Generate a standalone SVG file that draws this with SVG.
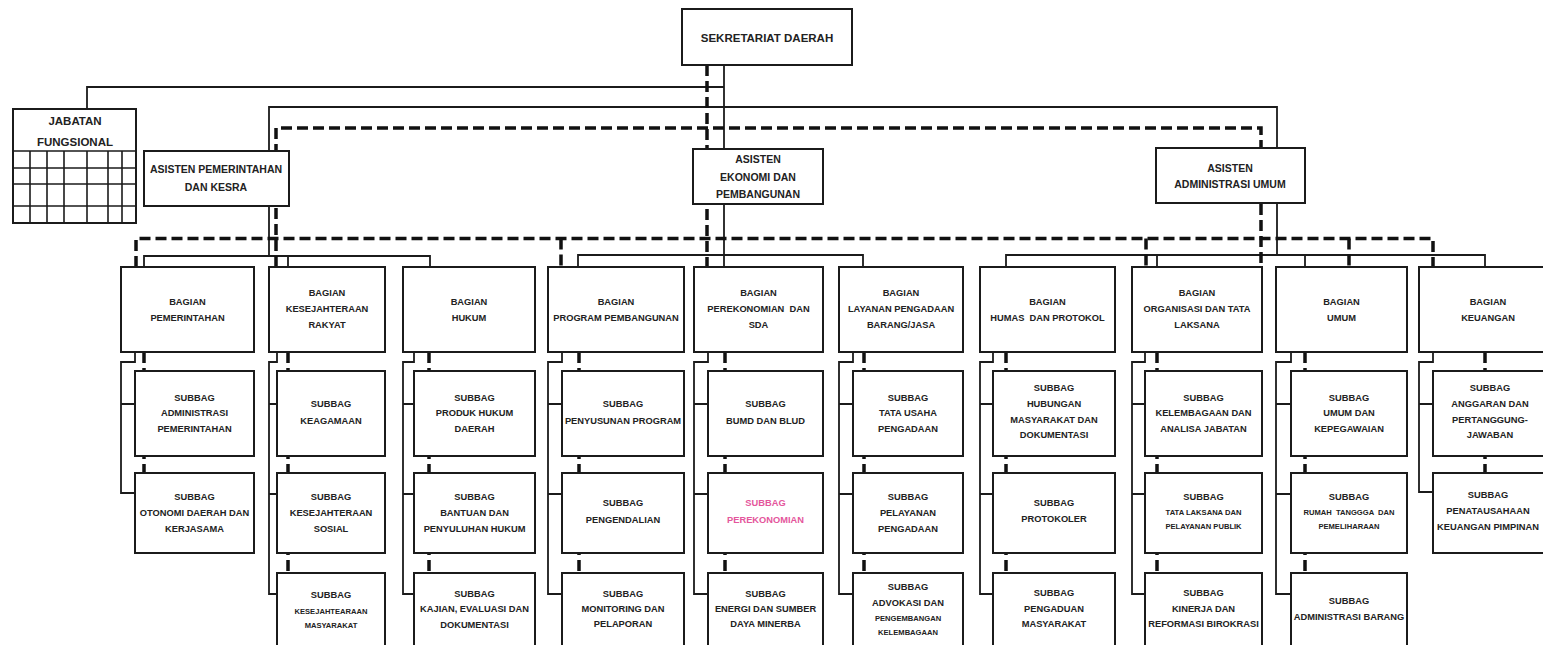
<svg xmlns="http://www.w3.org/2000/svg" width="1543" height="645" viewBox="0 0 1543 645">
<style>
.box{fill:#fff;stroke:#1b1b1b;stroke-width:2}
.ln{fill:none;stroke:#1b1b1b;stroke-width:1.8}
.dl{fill:none;stroke:#111;stroke-width:3.5;stroke-dasharray:11 5}
.grid{fill:none;stroke:#1b1b1b;stroke-width:1.6}
text{font-family:"Liberation Sans",Arial,sans-serif;font-weight:bold;fill:#222;text-anchor:middle;dominant-baseline:central;font-size:9.3px}
.s{font-size:7.6px}
.big{font-size:11.5px}
.mid{font-size:10.5px}
.pink{fill:#e4569c}
</style>
<rect x="0" y="0" width="1543" height="645" fill="#fff"/>
<g id="connectors">
  <path class="ln" d="M87,109 V87 H724"/>
  <path class="ln" d="M724,65 V267"/>
  <path class="ln" d="M269,256 V107 H1277 V255"/>
  <path class="ln" d="M144,267 V256 H430 V267 M288,256 V267"/>
  <path class="ln" d="M578,267 V255 H863 V267"/>
  <path class="ln" d="M1006,267 V255 H1485 V267 M1157,255 V267 M1305,255 V267"/>
  <path class="ln" d="M135,352 V362 H121 V493 H135 M121,404 H135"/>
  <path class="ln" d="M277,352 V362 H269 V594 H277 M269,404 H277 M269,494 H277"/>
  <path class="ln" d="M414,352 V362 H403 V594 H414 M403,404 H414 M403,494 H414"/>
  <path class="ln" d="M562,352 V362 H548 V594 H562 M548,404 H562 M548,494 H562"/>
  <path class="ln" d="M708,352 V362 H694 V594 H708 M694,404 H708 M694,494 H708"/>
  <path class="ln" d="M853,352 V362 H839 V594 H853 M839,404 H853 M839,494 H853"/>
  <path class="ln" d="M993,352 V362 H980 V594 H993 M980,404 H993 M980,494 H993"/>
  <path class="ln" d="M1145,352 V362 H1132 V594 H1145 M1132,404 H1145 M1132,494 H1145"/>
  <path class="ln" d="M1291,352 V362 H1276 V594 H1291 M1276,404 H1291 M1276,494 H1291"/>
  <path class="ln" d="M1433,352 V362 H1419 V492 H1433 M1419,404 H1433"/>
  <path class="dl" d="M276,267 V128 H1261 V267"/>
  <path class="dl" d="M136,267 V238.5 H1433 V267"/>
  <path class="dl" d="M707,65 V267"/>
  <path class="dl" d="M561,238.5 V267 M1146,238.5 V267 M1349,238.5 V267"/>
  <path class="dl" d="M144,352 V473 M288,352 V573 M429,352 V573 M579,352 V573 M725,352 V573 M864,352 V573 M1006,352 V573 M1157,352 V573 M1305,352 V573 M1485,352 V473"/>
</g>
<g id="sekda"><rect class="box" x="682" y="9" width="170" height="56"/><text class="big" x="767" y="38">SEKRETARIAT DAERAH</text></g>
<g id="jabatan-fungsional">
  <rect class="box" x="13" y="109" width="123" height="114"/>
  <path class="grid" d="M13,151 H136 M13,168 H136 M13,184 H136 M13,206 H136 M30,151 V223 M47,151 V223 M64,151 V223 M87,151 V223 M108,151 V223 M122,151 V223"/>
  <text class="big" x="75" y="121">JABATAN</text><text class="big" x="75" y="142">FUNGSIONAL</text>
</g>
<g id="asisten-pemerintahan"><rect class="box" x="144" y="151" width="145" height="55"/><text class="mid" x="216" y="169">ASISTEN PEMERINTAHAN</text><text class="mid" x="216" y="187">DAN KESRA</text></g>
<g id="asisten-ekonomi"><rect class="box" x="693" y="149" width="130" height="55"/><text class="mid" x="758" y="159">ASISTEN</text><text class="mid" x="758" y="177">EKONOMI DAN</text><text class="mid" x="758" y="194">PEMBANGUNAN</text></g>
<g id="asisten-administrasi"><rect class="box" x="1156" y="148" width="149" height="55"/><text class="mid" x="1230" y="168">ASISTEN</text><text class="mid" x="1230" y="184">ADMINISTRASI UMUM</text></g>

<g id="bagian-pemerintahan"><rect class="box" x="121" y="267" width="133" height="85"/><text x="187.5" y="302">BAGIAN</text><text x="187.5" y="318">PEMERINTAHAN</text></g>
<g id="subbag-administrasi-pemerintahan"><rect class="box" x="135" y="371" width="119" height="85"/><text x="194.5" y="398">SUBBAG</text><text x="194.5" y="413">ADMINISTRASI</text><text x="194.5" y="429">PEMERINTAHAN</text></g>
<g id="subbag-otonomi"><rect class="box" x="135" y="473" width="119" height="80"/><text x="194.5" y="497">SUBBAG</text><text x="194.5" y="513">OTONOMI DAERAH DAN</text><text x="194.5" y="529">KERJASAMA</text></g>

<g id="bagian-kesra"><rect class="box" x="269" y="267" width="116" height="85"/><text x="327" y="293">BAGIAN</text><text x="327" y="309">KESEJAHTERAAN</text><text x="327" y="325">RAKYAT</text></g>
<g id="subbag-keagamaan"><rect class="box" x="277" y="371" width="108" height="85"/><text x="331" y="404">SUBBAG</text><text x="331" y="421">KEAGAMAAN</text></g>
<g id="subbag-kesos"><rect class="box" x="277" y="473" width="108" height="80"/><text x="331" y="497">SUBBAG</text><text x="331" y="513">KESEJAHTERAAN</text><text x="331" y="529">SOSIAL</text></g>
<g id="subbag-kesmas"><rect class="box" x="277" y="573" width="108" height="82"/><text x="331" y="595">SUBBAG</text><text class="s" x="331" y="611">KESEJAHTEARAAN</text><text class="s" x="331" y="625">MASYARAKAT</text></g>

<g id="bagian-hukum"><rect class="box" x="403" y="267" width="132" height="85"/><text x="469" y="302">BAGIAN</text><text x="469" y="318">HUKUM</text></g>
<g id="subbag-produk-hukum"><rect class="box" x="414" y="371" width="121" height="85"/><text x="474.5" y="398">SUBBAG</text><text x="474.5" y="413">PRODUK HUKUM</text><text x="474.5" y="429">DAERAH</text></g>
<g id="subbag-bantuan-hukum"><rect class="box" x="414" y="473" width="121" height="80"/><text x="474.5" y="497">SUBBAG</text><text x="474.5" y="513">BANTUAN DAN</text><text x="474.5" y="529">PENYULUHAN HUKUM</text></g>
<g id="subbag-kajian"><rect class="box" x="414" y="573" width="121" height="82"/><text x="474.5" y="594">SUBBAG</text><text x="474.5" y="609">KAJIAN, EVALUASI DAN</text><text x="474.5" y="625">DOKUMENTASI</text></g>

<g id="bagian-program"><rect class="box" x="548" y="267" width="136" height="85"/><text x="616" y="302">BAGIAN</text><text x="616" y="318">PROGRAM PEMBANGUNAN</text></g>
<g id="subbag-penyusunan"><rect class="box" x="562" y="371" width="122" height="85"/><text x="623" y="404">SUBBAG</text><text x="623" y="421">PENYUSUNAN PROGRAM</text></g>
<g id="subbag-pengendalian"><rect class="box" x="562" y="473" width="122" height="80"/><text x="623" y="503">SUBBAG</text><text x="623" y="520">PENGENDALIAN</text></g>
<g id="subbag-monitoring"><rect class="box" x="562" y="573" width="122" height="82"/><text x="623" y="594">SUBBAG</text><text x="623" y="609">MONITORING DAN</text><text x="623" y="624">PELAPORAN</text></g>

<g id="bagian-perekonomian"><rect class="box" x="694" y="267" width="129" height="85"/><text x="758.5" y="293">BAGIAN</text><text x="758.5" y="309" xml:space="preserve">PEREKONOMIAN  DAN</text><text x="758.5" y="325">SDA</text></g>
<g id="subbag-bumd"><rect class="box" x="708" y="371" width="115" height="85"/><text x="765.5" y="404">SUBBAG</text><text x="765.5" y="421">BUMD DAN BLUD</text></g>
<g id="subbag-perekonomian"><rect class="box" x="708" y="473" width="115" height="80"/><text class="pink" x="765.5" y="503">SUBBAG</text><text class="pink" x="765.5" y="520">PEREKONOMIAN</text></g>
<g id="subbag-energi"><rect class="box" x="708" y="573" width="115" height="82"/><text x="765.5" y="594">SUBBAG</text><text x="765.5" y="609">ENERGI DAN SUMBER</text><text x="765.5" y="624">DAYA MINERBA</text></g>

<g id="bagian-pengadaan"><rect class="box" x="839" y="267" width="124" height="85"/><text x="901" y="293">BAGIAN</text><text x="901" y="309">LAYANAN PENGADAAN</text><text x="901" y="325">BARANG/JASA</text></g>
<g id="subbag-tata-usaha"><rect class="box" x="853" y="371" width="110" height="85"/><text x="908" y="398">SUBBAG</text><text x="908" y="413">TATA USAHA</text><text x="908" y="429">PENGADAAN</text></g>
<g id="subbag-pelayanan-pengadaan"><rect class="box" x="853" y="473" width="110" height="80"/><text x="908" y="497">SUBBAG</text><text x="908" y="513">PELAYANAN</text><text x="908" y="529">PENGADAAN</text></g>
<g id="subbag-advokasi"><rect class="box" x="853" y="573" width="110" height="82"/><text x="908" y="587">SUBBAG</text><text x="908" y="603">ADVOKASI DAN</text><text class="s" x="908" y="618">PENGEMBANGAN</text><text class="s" x="908" y="632">KELEMBAGAAN</text></g>

<g id="bagian-humas"><rect class="box" x="980" y="267" width="135" height="85"/><text x="1047.5" y="302">BAGIAN</text><text x="1047.5" y="318" xml:space="preserve">HUMAS  DAN PROTOKOL</text></g>
<g id="subbag-hubungan"><rect class="box" x="993" y="371" width="122" height="85"/><text x="1054" y="388">SUBBAG</text><text x="1054" y="404">HUBUNGAN</text><text x="1054" y="420">MASYARAKAT DAN</text><text x="1054" y="435">DOKUMENTASI</text></g>
<g id="subbag-protokoler"><rect class="box" x="993" y="473" width="122" height="80"/><text x="1054" y="503">SUBBAG</text><text x="1054" y="519">PROTOKOLER</text></g>
<g id="subbag-pengaduan"><rect class="box" x="993" y="573" width="122" height="82"/><text x="1054" y="593">SUBBAG</text><text x="1054" y="609">PENGADUAN</text><text x="1054" y="624">MASYARAKAT</text></g>

<g id="bagian-organisasi"><rect class="box" x="1132" y="267" width="130" height="85"/><text x="1197" y="293">BAGIAN</text><text x="1197" y="309">ORGANISASI DAN TATA</text><text x="1197" y="325">LAKSANA</text></g>
<g id="subbag-kelembagaan"><rect class="box" x="1145" y="371" width="117" height="85"/><text x="1203.5" y="398">SUBBAG</text><text x="1203.5" y="413">KELEMBAGAAN DAN</text><text x="1203.5" y="429">ANALISA JABATAN</text></g>
<g id="subbag-tata-laksana"><rect class="box" x="1145" y="473" width="117" height="80"/><text x="1203.5" y="497">SUBBAG</text><text class="s" x="1203.5" y="512">TATA LAKSANA DAN</text><text class="s" x="1203.5" y="526">PELAYANAN PUBLIK</text></g>
<g id="subbag-kinerja"><rect class="box" x="1145" y="573" width="117" height="82"/><text x="1203.5" y="593">SUBBAG</text><text x="1203.5" y="609">KINERJA DAN</text><text x="1203.5" y="624">REFORMASI BIROKRASI</text></g>

<g id="bagian-umum"><rect class="box" x="1276" y="267" width="131" height="85"/><text x="1341.5" y="302">BAGIAN</text><text x="1341.5" y="318">UMUM</text></g>
<g id="subbag-kepegawaian"><rect class="box" x="1291" y="371" width="116" height="85"/><text x="1349" y="398">SUBBAG</text><text x="1349" y="413">UMUM DAN</text><text x="1349" y="429">KEPEGAWAIAN</text></g>
<g id="subbag-rumah-tangga"><rect class="box" x="1291" y="473" width="116" height="80"/><text x="1349" y="497">SUBBAG</text><text class="s" x="1349" y="512" xml:space="preserve">RUMAH  TANGGGA  DAN</text><text class="s" x="1349" y="526">PEMELIHARAAN</text></g>
<g id="subbag-administrasi-barang"><rect class="box" x="1291" y="573" width="116" height="82"/><text x="1349" y="601">SUBBAG</text><text x="1349" y="617">ADMINISTRASI BARANG</text></g>

<g id="bagian-keuangan"><rect class="box" x="1419" y="267" width="142" height="85"/><text x="1488" y="302">BAGIAN</text><text x="1488" y="318">KEUANGAN</text></g>
<g id="subbag-anggaran"><rect class="box" x="1433" y="371" width="128" height="85"/><text x="1490" y="388">SUBBAG</text><text x="1490" y="404">ANGGARAN DAN</text><text x="1490" y="420">PERTANGGUNG-</text><text x="1490" y="435">JAWABAN</text></g>
<g id="subbag-penatausahaan"><rect class="box" x="1433" y="473" width="128" height="80"/><text x="1488" y="495">SUBBAG</text><text x="1488" y="511">PENATAUSAHAAN</text><text x="1488" y="527">KEUANGAN PIMPINAN</text></g>
</svg>
